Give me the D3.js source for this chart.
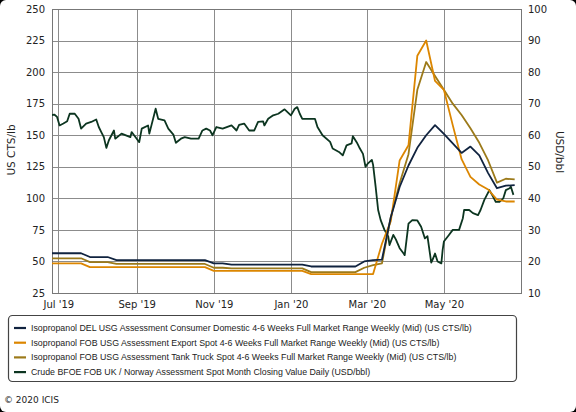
<!DOCTYPE html>
<html>
<head>
<meta charset="utf-8">
<script src="https://cdn.jsdelivr.net/npm/d3@7"></script>
<style>
  html, body { margin: 0; padding: 0; background: #000; }
  svg { display: block; }
  text { font-family: "DejaVu Sans", sans-serif; fill: #222; }
</style>
</head>
<body>
<svg id="chart" width="576" height="412"></svg>
<script>
// weekly isopropanol assessments (Fridays), US CTS/lb
var weekStart = "2019-06-21", weekEnd = "2020-06-26";
var delValues = [
  56.5, 56.5, 56.5, 56.5, 56.5, 53.5, 53.5, 53.5, 51, 51, 51, 51, 51, 51, 51, 51, 51, 51, 51,
  48.5, 48.5, 47.5, 47.5, 47.5, 47.5, 47.5, 47.5, 47.5, 47.5, 47.5, 46, 46, 46, 46, 46, 46,
  50, 51, 51.5, 85, 109, 126, 140, 150, 158, 151, 143.5, 136, 141, 134, 120, 108, 110, 110.5
];
var exportValues = [
  48.5, 48.5, 48.5, 48.5, 48.5, 45.5, 45.5, 45.5, 45.5, 45.5, 45.5, 45.5, 45.5, 45.5, 45.5, 45.5, 45.5, 45.5, 45.5,
  42.5, 42.5, 42.5, 42.5, 42.5, 42.5, 42.5, 42.5, 42.5, 42.5, 42.5, 40, 40, 40, 40, 40, 40,
  40, 40, 64, 82, 130, 142, 213, 225, 193, 186, 158, 131, 117, 111, 107, 99, 97.5, 97.5
];
var truckValues = [
  52.5, 52.5, 52.5, 52.5, 52.5, 49.5, 49.5, 49.5, 48, 48, 48, 48, 48, 48, 48, 48, 48, 48, 48,
  45, 45, 44.5, 44.5, 44.5, 44.5, 44.5, 44.5, 44.5, 44.5, 44.5, 41.5, 41.5, 41.5, 41.5, 41.5, 41.5,
  45, 47, 48.5, 85, 112, 135, 186, 208, 197, 186, 175, 166, 155.5, 144, 130, 112.5, 115.5, 115
];

// daily Brent crude, USD/bbl
var crudeDates = [
  "2019-06-26","2019-06-28","2019-06-30","2019-07-02","2019-07-05","2019-07-08","2019-07-10","2019-07-14",
  "2019-07-17","2019-07-19","2019-07-23","2019-07-27","2019-07-31","2019-08-02","2019-08-04","2019-08-06",
  "2019-08-08","2019-08-10","2019-08-14","2019-08-15","2019-08-20","2019-08-27","2019-08-28","2019-09-01",
  "2019-09-03","2019-09-05","2019-09-10","2019-09-11","2019-09-16","2019-09-18","2019-09-23","2019-09-26",
  "2019-09-30","2019-10-02","2019-10-06","2019-10-09","2019-10-14","2019-10-20","2019-10-23","2019-10-26",
  "2019-10-29","2019-10-31","2019-11-03","2019-11-08","2019-11-15","2019-11-19","2019-11-21","2019-11-25",
  "2019-11-29","2019-12-03","2019-12-06","2019-12-10","2019-12-11","2019-12-14","2019-12-18","2019-12-22",
  "2019-12-27","2020-01-01","2020-01-04","2020-01-06","2020-01-08","2020-01-10","2020-01-16","2020-01-20",
  "2020-01-22","2020-01-26","2020-02-01","2020-02-03","2020-02-08","2020-02-11","2020-02-14","2020-02-18",
  "2020-02-19","2020-02-22","2020-02-24","2020-02-27","2020-02-29","2020-03-02","2020-03-05","2020-03-06",
  "2020-03-08","2020-03-10","2020-03-12","2020-03-15","2020-03-18","2020-03-19","2020-03-22","2020-03-24",
  "2020-03-27","2020-03-30","2020-03-31","2020-04-03","2020-04-06","2020-04-10","2020-04-13","2020-04-16",
  "2020-04-18","2020-04-21","2020-04-22","2020-04-24","2020-04-26","2020-04-29","2020-04-30","2020-05-01",
  "2020-05-05","2020-05-08","2020-05-13","2020-05-16","2020-05-17","2020-05-21","2020-05-24","2020-05-28",
  "2020-05-30","2020-06-02","2020-06-06","2020-06-09","2020-06-11","2020-06-14","2020-06-17","2020-06-19",
  "2020-06-22","2020-06-23","2020-06-25"
];
var crudeValues = [
  66.4, 66.5, 65.8, 63.1, 63.7, 64.4, 66.8, 66.8,
  65.2, 62.1, 63.7, 64.2, 65, 62.6, 61, 59.4,
  56, 58.4, 61.5, 58.9, 60.5, 59.4, 61, 58.9,
  57.8, 62.1, 63.1, 60.5, 68.4, 65.2, 64.7, 62.1,
  60.2, 57.6, 58.9, 59.4, 58.9, 58.9, 61.5, 62.1,
  61.5, 60, 62.6, 62.1, 63.1, 61.5, 63.3, 63.7,
  61.5, 61.5, 64.2, 64.4, 63.1, 65.2, 66.3, 66.8,
  68.2, 66.3, 68.4, 68.9, 66.8, 65.2, 65.2, 65.2,
  62.6, 60, 57.9, 55.8, 54.7, 53.6, 56.8, 57.4,
  59.7, 57.8, 56.2, 54.1, 50, 51.1, 52.2, 50.6,
  43.7, 36.3, 33.1, 30, 27.9, 25.2, 28.4, 27,
  24.2, 22.6, 22, 32, 33.1, 33, 31, 27.3,
  28, 19.6, 20.5, 22.5, 20, 19.4, 23.6, 26.3,
  28.4, 30, 30, 33.7, 36.3, 36.3, 35.3, 34.7,
  36.3, 39.5, 42.6, 40.5, 38.9, 38.9, 40, 42.6,
  43.2, 43.7, 41.1
];

var leftTicks = [25, 50, 75, 100, 125, 150, 175, 200, 225, 250];
var rightTicks = [10, 20, 30, 40, 50, 60, 70, 80, 90, 100];
var monthTicks = ["2019-07-01", "2019-09-01", "2019-11-01", "2020-01-01", "2020-03-01", "2020-05-01"];

var seriesNames = [
  "Isopropanol DEL USG Assessment Consumer Domestic 4-6 Weeks Full Market Range Weekly (Mid) (US CTS/lb)",
  "Isopropanol FOB USG Assessment Export Spot 4-6 Weeks Full Market Range Weekly (Mid) (US CTS/lb)",
  "Isopropanol FOB USG Assessment Tank Truck Spot 4-6 Weeks Full Market Range Weekly (Mid) (US CTS/lb)",
  "Crude BFOE FOB UK / Norway Assessment Spot Month Closing Value Daily (USD/bbl)"
];
var seriesColors = ["#10233f", "#dc8600", "#9c7a1a", "#0c3520"];

var parse = d3.timeParse("%Y-%m-%d");
var svg = d3.select("#chart");
var plotL = 52, plotR = 521, plotT = 9, plotB = 293;

svg.append("rect").attr("width", 576).attr("height", 412).attr("rx", 6).attr("fill", "#fff");

var x = d3.scaleTime().domain([parse("2019-06-26"), parse("2020-07-01")]).range([plotL, plotR]);
var yL = d3.scaleLinear().domain([25, 250]).range([plotB, plotT]);
var yR = d3.scaleLinear().domain([10, 100]).range([plotB, plotT]);

var weeks = d3.timeFriday.range(parse(weekStart), d3.timeDay.offset(parse(weekEnd), 1));

// grid
var grid = svg.append("g").attr("class", "grid");
grid.selectAll(".h").data(leftTicks).enter().append("line")
  .attr("x1", plotL).attr("x2", plotR)
  .attr("y1", function(d){ return Math.round(yL(d)) + 0.5; }).attr("y2", function(d){ return Math.round(yL(d)) + 0.5; })
  .attr("stroke", "#8c8c8c").attr("stroke-width", 1);
grid.selectAll(".v").data(monthTicks).enter().append("line")
  .attr("x1", function(d){ return Math.round(x(parse(d))) + 0.5; }).attr("x2", function(d){ return Math.round(x(parse(d))) + 0.5; })
  .attr("y1", plotT).attr("y2", plotB)
  .attr("stroke", "#8c8c8c").attr("stroke-width", 1);
svg.append("rect").attr("x", plotL + 0.5).attr("y", plotT + 0.5).attr("width", plotR - plotL).attr("height", plotB - plotT)
  .attr("fill", "none").attr("stroke", "#777").attr("stroke-width", 1);

// axes
var axL = svg.append("g").attr("transform", "translate(" + plotL + ",0)")
  .call(d3.axisLeft(yL).tickValues(leftTicks).tickSize(0).tickPadding(7));
var axR = svg.append("g").attr("transform", "translate(" + plotR + ",0)")
  .call(d3.axisRight(yR).tickValues(rightTicks).tickSize(0).tickPadding(7));
var axB = svg.append("g").attr("transform", "translate(0," + plotB + ")")
  .call(d3.axisBottom(x).tickValues(monthTicks.map(parse)).tickFormat(d3.timeFormat("%b '%y")).tickSize(0).tickPadding(8));
[axL, axR, axB].forEach(function(a){
  a.select(".domain").remove();
  a.selectAll("text").style("font-size", "10px").style("font-family", "DejaVu Sans, sans-serif").attr("fill", "#222");
});

svg.append("text").attr("transform", "translate(15,150) rotate(-90)")
  .attr("text-anchor", "middle").style("font-size", "10.5px").text("US CTS/lb");
svg.append("text").attr("transform", "translate(556,152) rotate(90)")
  .attr("text-anchor", "middle").style("font-size", "10.5px").text("USD/bbl");

// lines
svg.append("clipPath").attr("id", "plot").append("rect")
  .attr("x", plotL).attr("y", plotT).attr("width", plotR - plotL).attr("height", plotB - plotT);
var plot = svg.append("g").attr("clip-path", "url(#plot)");

var weekLine = d3.line().x(function(d, i){ return x(weeks[i]); }).y(function(d){ return yL(d); });
var crudeLine = d3.line().x(function(d, i){ return x(parse(crudeDates[i])); }).y(function(d){ return yR(d); });

plot.append("path").datum(crudeValues).attr("d", crudeLine)
  .attr("fill", "none").attr("stroke", seriesColors[3]).attr("stroke-width", 1.8).attr("stroke-linejoin", "round");
plot.append("path").datum(truckValues).attr("d", weekLine)
  .attr("fill", "none").attr("stroke", seriesColors[2]).attr("stroke-width", 1.8).attr("stroke-linejoin", "round");
plot.append("path").datum(exportValues).attr("d", weekLine)
  .attr("fill", "none").attr("stroke", seriesColors[1]).attr("stroke-width", 1.8).attr("stroke-linejoin", "round");
plot.append("path").datum(delValues).attr("d", weekLine)
  .attr("fill", "none").attr("stroke", seriesColors[0]).attr("stroke-width", 1.8).attr("stroke-linejoin", "round");

// legend
svg.append("rect").attr("x", 8.5).attr("y", 315.5).attr("width", 508).attr("height", 66).attr("rx", 4)
  .attr("fill", "#fff").attr("stroke", "#444").attr("stroke-width", 1.2);
var leg = svg.selectAll(".leg").data(seriesNames).enter().append("g")
  .attr("transform", function(d, i){ return "translate(14," + (328 + i * 14.7) + ")"; });
leg.append("line").attr("x1", 0).attr("x2", 12).attr("y1", 0).attr("y2", 0)
  .attr("stroke", function(d, i){ return seriesColors[i]; }).attr("stroke-width", 2.2);
leg.append("text").attr("x", 17).attr("dy", "0.35em")
  .style("font-family", "Liberation Sans, Arial, sans-serif").style("font-size", "8.8px").text(function(d){ return d; });

svg.append("text").attr("x", 4).attr("y", 403).style("font-size", "9px").attr("fill", "#444").text("\u00a9 2020 ICIS");
</script>
</body>
</html>
